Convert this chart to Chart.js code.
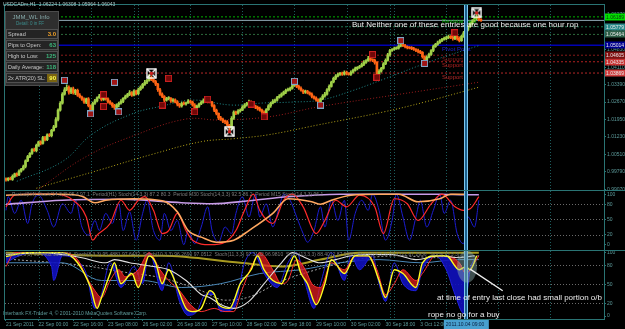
<!DOCTYPE html>
<html>
<head>
<meta charset="utf-8">
<script src="https://cdn.jsdelivr.net/npm/chart.js@4.4.0/dist/chart.umd.min.js"></script>
<style>
  html, body { margin: 0; padding: 0; background: #000; }
  canvas { display: block; }
</style>
</head>
<body>
<canvas id="chart" width="625" height="329"></canvas>
<script>
// USDCADm H1, one close per bar (bar 0 = 21 Sep 2011 09:00)
const closes = [
  0.9945, 0.9952, 0.9948, 0.9960, 0.9971, 0.9966, 0.9982, 0.9990, 1.0001, 1.0024,
  1.0042, 1.0055, 1.0071, 1.0066, 1.0088, 1.0103, 1.0096, 1.0120, 1.0112, 1.0132,
  1.0128, 1.0150, 1.0165, 1.0195, 1.0234, 1.0262, 1.0300, 1.0318, 1.0328, 1.0308,
  1.0322, 1.0305, 1.0316, 1.0296, 1.0288, 1.0279, 1.0267, 1.0280, 1.0252, 1.0234,
  1.0262, 1.0272, 1.0285, 1.0292, 1.0278, 1.0286, 1.0280, 1.0268, 1.0262, 1.0252,
  1.0245, 1.0256, 1.0262, 1.0270, 1.0282, 1.0290, 1.0298, 1.0306, 1.0296, 1.0312,
  1.0302, 1.0318, 1.0328, 1.0340, 1.0349, 1.0356, 1.0369, 1.0360, 1.0352, 1.0341,
  1.0318, 1.0300, 1.0290, 1.0275, 1.0281, 1.0283, 1.0272, 1.0276, 1.0267, 1.0258,
  1.0251, 1.0262, 1.0259, 1.0264, 1.0270, 1.0267, 1.0255, 1.0243, 1.0250, 1.0259,
  1.0266, 1.0272, 1.0275, 1.0270, 1.0267, 1.0252, 1.0234, 1.0220, 1.0202, 1.0196,
  1.0188, 1.0185, 1.0172, 1.0161, 1.0200, 1.0226, 1.0221, 1.0230, 1.0234, 1.0246,
  1.0255, 1.0262, 1.0267, 1.0258, 1.0251, 1.0245, 1.0240, 1.0234, 1.0226, 1.0218,
  1.0236, 1.0251, 1.0262, 1.0270, 1.0275, 1.0286, 1.0292, 1.0300, 1.0308, 1.0315,
  1.0318, 1.0324, 1.0335, 1.0341, 1.0332, 1.0324, 1.0316, 1.0308, 1.0312, 1.0305,
  1.0300, 1.0290, 1.0283, 1.0276, 1.0267, 1.0280, 1.0292, 1.0300, 1.0318, 1.0332,
  1.0350, 1.0365, 1.0374, 1.0381, 1.0386, 1.0382, 1.0390, 1.0385, 1.0381, 1.0390,
  1.0398, 1.0405, 1.0410, 1.0414, 1.0422, 1.0431, 1.0438, 1.0447, 1.0442, 1.0440,
  1.0431, 1.0381, 1.0395, 1.0406, 1.0425, 1.0439, 1.0462, 1.0480, 1.0484, 1.0488,
  1.0490, 1.0498, 1.0504, 1.0500, 1.0496, 1.0492, 1.0490, 1.0488, 1.0484, 1.0480,
  1.0476, 1.0472, 1.0455, 1.0439, 1.0452, 1.0464, 1.0480, 1.0496, 1.0505, 1.0512,
  1.0520, 1.0526, 1.0529, 1.0533, 1.0537, 1.0534, 1.0529, 1.0540, 1.0530, 1.0521,
  1.0538, 1.0553, 1.0565, 1.0578, 1.0590, 1.0602, 1.0612, 1.0619, 1.0608, 1.0604
];
const firstOpen = 0.9950;
// upper / lower shadow of each bar, in pips
const wickUp = [
  4, 3, 5, 6, 3, 4, 5, 3, 6, 4, 5, 3, 4, 6, 5, 3, 4, 5, 6, 4,
  5, 4, 6, 8, 5, 7, 6, 9, 10, 6, 5, 7, 4, 5, 6, 4, 5, 3, 6, 4,
  5, 6, 4, 7, 5, 8, 6, 4, 5, 3, 6, 4, 5, 7, 4, 6, 5, 8, 4, 6,
  5, 7, 6, 4, 8, 5, 12, 6, 4, 5, 3, 6, 5, 4, 6, 7, 3, 5, 4, 6,
  4, 5, 6, 3, 7, 5, 4, 6, 5, 4, 6, 8, 5, 4, 7, 3, 5, 4, 3, 6,
  5, 4, 6, 3, 7, 5, 4, 6, 5, 7, 6, 4, 8, 5, 3, 4, 5, 6, 4, 5,
  4, 6, 5, 7, 4, 5, 6, 5, 4, 6, 7, 5, 8, 9, 4, 5, 6, 3, 5, 4,
  4, 5, 3, 6, 4, 5, 6, 7, 5, 6, 4, 5, 7, 6, 4, 5, 6, 5, 4, 6,
  5, 6, 4, 5, 6, 7, 5, 9, 6, 4, 5, 3, 6, 4, 5, 7, 6, 5, 4, 6,
  5, 6, 8, 4, 5, 3, 4, 6, 5, 4, 6, 5, 4, 3, 6, 5, 4, 6, 5, 7,
  5, 4, 6, 5, 7, 5, 6, 9, 4, 6, 5, 6, 7, 5, 8, 6, 7, 10, 5, 4
];
const wickDn = [
  5, 4, 3, 5, 4, 6, 3, 5, 4, 6, 3, 5, 4, 3, 5, 4, 6, 3, 5, 4,
  4, 5, 3, 4, 6, 5, 4, 5, 4, 8, 6, 5, 7, 6, 4, 5, 6, 7, 5, 9,
  6, 5, 4, 3, 6, 4, 5, 6, 5, 7, 8, 5, 9, 4, 5, 3, 4, 5, 6, 4,
  5, 4, 3, 5, 4, 6, 3, 5, 4, 6, 7, 6, 5, 8, 4, 5, 6, 5, 4, 7,
  6, 5, 4, 5, 3, 6, 5, 8, 4, 5, 3, 4, 5, 6, 4, 5, 7, 6, 8, 5,
  6, 7, 5, 10, 8, 5, 6, 4, 5, 3, 4, 5, 3, 6, 4, 5, 6, 5, 7, 9,
  5, 4, 6, 3, 5, 4, 3, 5, 4, 6, 3, 5, 4, 3, 6, 5, 4, 6, 5, 4,
  5, 6, 4, 5, 8, 4, 3, 5, 4, 6, 3, 4, 5, 3, 4, 5, 4, 6, 3, 4,
  4, 3, 5, 4, 3, 5, 4, 3, 5, 6, 7, 10, 5, 4, 3, 4, 3, 5, 4, 3,
  4, 5, 3, 4, 5, 6, 4, 5, 4, 5, 6, 5, 7, 9, 4, 3, 4, 5, 3, 4,
  3, 4, 3, 5, 4, 5, 6, 4, 7, 6, 3, 4, 3, 4, 3, 4, 3, 5, 6, 4
];

// moving averages (dotted), read at a few bars
const maTealIdx = [5, 26, 40, 58, 72, 86, 104, 118, 132, 145, 159, 174, 197, 218];
const maTeal = [0.99397, 1.00215, 1.01361, 1.02179, 1.02506, 1.02752, 1.02547, 1.02629, 1.02670, 1.02752, 1.03120, 1.03611, 1.04388, 1.05002];
const maRedIdx = [15, 37, 60, 83, 98, 121, 144, 182, 218];
const maRed = [0.9907, 1.0042, 1.0132, 1.0197, 1.0193, 1.0206, 1.0247, 1.0300, 1.0349];
const maYellowIdx = [14, 44, 67, 90, 105, 121, 144, 174, 193, 218];
const maYellow = [0.99111, 0.99888, 1.00502, 1.01034, 1.01157, 1.01320, 1.01729, 1.02261, 1.02670, 1.03284];

// pivot levels
const levelNames = ['Resistance 3', '', '', 'Pivot Point', 'Support 1', 'Support 2', 'Support 3'];
const levelPrices = [1.06189, 1.05779, 1.05464, 1.05014, 1.04605, 1.04335, 1.03869];
const bidPrice = 1.06043;

// fractal markers
const markBlueIdx = [27, 39, 50, 52, 133, 145, 182, 193];
const markBluePrice = [1.03570, 1.02179, 1.03488, 1.02261, 1.03529, 1.02548, 1.05207, 1.04266];
const markRedIdx = [45, 45, 72, 75, 87, 93, 113, 119, 169, 171, 207];
const markRedPrice = [1.02975, 1.02484, 1.02548, 1.03652, 1.02261, 1.02793, 1.02588, 1.02057, 1.04634, 1.03693, 1.05534];
const markWhiteIdx = [67, 103, 217];
const markWhitePrice = [1.03857, 1.01443, 1.06352];

// pane 2: Stoch periods
const st2LavIdx = [0, 26, 53, 81, 95, 112, 130, 154, 180, 200, 212, 218];
const st2Lav = [80, 88, 90, 83, 81, 87, 95, 100, 100, 100, 99, 99];
const st2OrgIdx = [0, 15, 26, 35, 41, 46, 59, 72, 79, 84, 90, 97, 105, 112, 123, 130, 141, 145, 150, 159, 172, 181, 190, 200, 205, 212];
const st2Org = [98, 100, 100, 96, 83, 88, 91, 87, 65, 28, 15, 5, 9, 28, 62, 91, 85, 80, 88, 98, 100, 100, 85, 91, 100, 100];
const st2RedIdx = [0, 4, 13, 22, 31, 37, 40, 42, 48, 53, 57, 61, 64, 68, 72, 75, 79, 83, 86, 94, 101, 106, 110, 114, 117, 123, 128, 132, 137, 143, 147, 152, 157, 163, 170, 174, 179, 185, 190, 196, 201, 207, 211, 214, 218];
const st2Red = [75, 98, 100, 100, 88, 55, 9, 19, 42, 88, 68, 88, 95, 68, 22, 28, 62, 28, 9, 0, 5, 28, 68, 100, 68, 42, 88, 100, 75, 22, 48, 88, 75, 98, 75, 22, 91, 81, 48, 81, 100, 75, 68, 71, 95];
const st2BlueIdx = [0, 1, 4, 7, 10, 12, 15, 19, 22, 26, 30, 32, 35, 38, 41, 43, 46, 49, 52, 54, 57, 60, 63, 65, 68, 71, 73, 76, 79, 82, 84, 87, 90, 93, 95, 98, 101, 104, 106, 109, 112, 115, 117, 120, 123, 126, 128, 131, 134, 137, 139, 142, 145, 147, 150, 153, 156, 158, 161, 164, 167, 169, 172, 175, 178, 180, 183, 186, 189, 191, 194, 197, 200, 202, 205, 208, 211, 213, 216, 218];
const st2Blue = [68, 95, 62, 88, 42, 81, 98, 68, 35, 81, 62, 88, 35, 19, 48, 28, 62, 42, 81, 28, 65, 9, 62, 88, 28, 9, 62, 28, 48, 0, 28, 2, 35, 75, 28, 5, 35, 22, 62, 95, 55, 100, 55, 81, 35, 75, 100, 88, 55, 22, 5, 28, 75, 35, 88, 48, 88, 9, 62, 88, 68, 100, 68, 9, 48, 100, 55, 9, 55, 88, 35, 68, 100, 62, 88, 22, 2, 55, 35, 88];

// pane 3: Stoch ribbon
const st3YelIdx = [0, 10, 19, 26, 33, 39, 42, 44, 48, 50, 53, 58, 61, 66, 69, 72, 75, 79, 83, 86, 90, 94, 96, 98, 103, 108, 113, 116, 119, 123, 127, 130, 133, 136, 139, 143, 147, 150, 156, 161, 167, 172, 175, 179, 183, 189, 192, 198, 203, 209, 212, 214, 217];
const st3Yel = [94, 100, 100, 100, 84, 45, 12, 29, 67, 84, 51, 67, 45, 95, 84, 51, 73, 45, 12, 7, 12, 40, 35, 18, 12, 51, 73, 95, 73, 56, 51, 73, 95, 67, 51, 18, 51, 89, 67, 95, 95, 56, 29, 73, 67, 45, 84, 95, 95, 73, 78, 73, 95];
const st3BlueIdx = [0, 6, 13, 21, 22, 26, 32, 37, 41, 44, 48, 53, 59, 63, 66, 72, 75, 80, 84, 88, 92, 96, 99, 105, 110, 114, 119, 125, 130, 134, 138, 142, 145, 150, 156, 159, 163, 169, 172, 175, 179, 183, 189, 192, 198, 203, 207, 211, 214, 217];
const st3Blue = [84, 95, 100, 78, 56, 95, 89, 67, 12, 34, 84, 45, 78, 51, 100, 40, 84, 23, 1, 7, 34, 34, 7, 12, 84, 100, 67, 45, 84, 100, 51, 12, 51, 100, 56, 95, 73, 95, 51, 23, 84, 51, 40, 73, 95, 73, 34, 4, 73, 95];
const st3RedIdx = [0, 4, 15, 26, 33, 37, 41, 44, 48, 52, 55, 61, 66, 71, 75, 80, 85, 90, 96, 101, 105, 108, 114, 117, 123, 127, 130, 134, 138, 141, 145, 150, 156, 161, 167, 171, 175, 179, 183, 189, 192, 198, 203, 209, 212, 216, 218];
const st3Red = [78, 100, 100, 100, 89, 62, 40, 29, 56, 73, 62, 73, 100, 73, 56, 40, 18, 7, 12, 7, 7, 34, 84, 100, 73, 51, 56, 89, 73, 51, 45, 84, 73, 95, 95, 73, 34, 51, 73, 56, 67, 95, 95, 84, 67, 84, 95];
const st3WhiteIdx = [0, 17, 26, 35, 46, 50, 57, 68, 75, 83, 90, 94, 99, 105, 112, 119, 127, 132, 138, 145, 152, 159, 167, 178, 189, 200, 209, 216];
const st3White = [97, 100, 97, 92, 84, 89, 84, 78, 73, 56, 34, 29, 18, 12, 23, 51, 84, 100, 92, 84, 89, 95, 97, 97, 89, 95, 92, 95];
const st3OliveIdx = [0, 53, 72, 108, 127, 145, 163, 218];
const st3Olive = [100, 95, 95, 84, 78, 89, 100, 100];
const st3SteelIdx = [0, 26, 44, 63, 81, 99, 117, 136, 154, 172, 191, 209, 218];
const st3Steel = [84, 84, 56, 56, 45, 51, 67, 73, 84, 89, 84, 89, 89];
const st3GreyIdx = [0, 35, 53, 72, 90, 101, 112, 127, 145, 163, 181, 200, 218];
const st3Grey = [90, 80, 70, 60, 40, 25, 30, 55, 75, 90, 95, 92, 95];

// time axis
const labelIdx = [0, 15, 31, 47, 63, 79, 95, 111, 127, 143, 159, 175, 191];
const timeLabels = ['21 Sep 2011', '22 Sep 00:00', '22 Sep 16:00', '23 Sep 08:00', '26 Sep 02:00', '26 Sep 18:00',
  '27 Sep 10:00', '28 Sep 02:00', '28 Sep 18:00', '29 Sep 10:00', '30 Sep 02:00', '30 Sep 18:00', '3 Oct 12:00'];
const daySepIdx = [15, 39, 59, 61, 85, 109, 133, 157, 177, 179, 203, 227, 251];
const priceTicks = [0.9907, 0.9979, 1.0051, 1.0123, 1.0195, 1.0267, 1.0339, 1.0411, 1.0483, 1.0555, 1.0627];
const oscTicks = [100, 80, 50, 20, 0];
const entryIdx = 212;
const entryLabel = '2011.10.04 09:00';

const infoRows = [['Spread', '3.0'], ['Pips to Open:', '63'], ['High to Low:', '125'], ['Daily Average:', '118'], ['2x ATR(20) SL:', '90']];

// ---------- helpers ----------
const xMin = -0.46, xMax = 275.7;
const PIP = 0.0001;
const pts = (xs, ys) => xs.map((x, i) => ({ x: x, y: ys[i] }));
const FONT = '"Liberation Sans", Arial, sans-serif';
const NARROW = '"Liberation Sans Narrow", "Liberation Sans", Arial, sans-serif';

function makeMark(size, draw) {
  const c = document.createElement('canvas');
  c.width = c.height = size;
  draw(c.getContext('2d'), size);
  return c;
}
const markBlueImg = makeMark(7, g => {
  g.fillStyle = '#a01414'; g.fillRect(1, 1, 5, 5);
  g.strokeStyle = '#7fa6c6'; g.lineWidth = 1; g.strokeRect(0.5, 0.5, 6, 6);
});
const markRedImg = makeMark(7, g => {
  g.fillStyle = '#700808'; g.fillRect(1, 1, 5, 5);
  g.strokeStyle = '#c82020'; g.lineWidth = 1; g.strokeRect(0.5, 0.5, 6, 6);
});
const markWhiteImg = makeMark(11, g => {
  g.strokeStyle = '#ffffff'; g.lineWidth = 1.4;
  g.strokeRect(1, 1, 9, 9);
  g.beginPath(); g.moveTo(1, 1); g.lineTo(10, 10); g.moveTo(10, 1); g.lineTo(1, 10); g.stroke();
  g.fillStyle = '#d02020'; g.fillRect(4, 4, 3, 3);
});

const opens = closes.map((c, i) => i === 0 ? firstOpen : closes[i - 1]);
const candleData = closes.map((c, i) => ({ x: i, y: [opens[i], c] }));
const wickData = closes.map((c, i) => ({ x: i, y: [Math.min(opens[i], c) - wickDn[i] * PIP, Math.max(opens[i], c) + wickUp[i] * PIP] }));
const candleColors = closes.map((c, i) => c >= opens[i] ? '#a0d048' : '#ff6414');

const levelColors = ['#00b000', '#1c7a50', '#2c6a3c', '#0000b4', '#8a1a1a', '#b42020', '#b42828'];
const boxColors = ['#00e000', '#2a8a8a', '#2f5f48', '#000090', '#801010', '#c83030', '#d04040'];

const line = (data, color, width, axis, extra) => Object.assign({
  type: 'line', data: data, borderColor: color, borderWidth: width, pointRadius: 0,
  yAxisID: axis, xAxisID: 'x', fill: false, cubicInterpolationMode: 'monotone'
}, extra || {});

const datasets = [];
// main pane (first = on top)
datasets.push({ type: 'scatter', data: pts(markWhiteIdx, markWhitePrice), pointStyle: markWhiteImg, yAxisID: 'y' });
datasets.push({ type: 'scatter', data: pts(markBlueIdx, markBluePrice), pointStyle: markBlueImg, yAxisID: 'y' });
datasets.push({ type: 'scatter', data: pts(markRedIdx, markRedPrice), pointStyle: markRedImg, yAxisID: 'y' });
datasets.push({ type: 'bar', data: candleData, backgroundColor: candleColors, barThickness: 2, minBarLength: 1, grouped: false, yAxisID: 'y' });
datasets.push({ type: 'bar', data: wickData, backgroundColor: candleColors, barThickness: 1, grouped: false, yAxisID: 'y' });
datasets.push(line(pts(maTealIdx, maTeal), '#1f8a8a', 1, 'y', { borderDash: [1, 2], cubicInterpolationMode: 'default', tension: 0.4 }));
datasets.push(line(pts(maRedIdx, maRed), '#9a1c1c', 1, 'y', { borderDash: [1, 2], cubicInterpolationMode: 'default', tension: 0.4 }));
datasets.push(line(pts(maYellowIdx, maYellow), '#b4a418', 1, 'y', { borderDash: [1, 2], cubicInterpolationMode: 'default', tension: 0.4 }));
levelPrices.forEach((p, i) => {
  datasets.push(line([{ x: xMin, y: p }, { x: xMax, y: p }], levelColors[i], i === 3 ? 1.4 : 1, 'y', i === 3 ? {} : { borderDash: [2, 2] }));
});
datasets.push(line([{ x: xMin, y: bidPrice }, { x: xMax, y: bidPrice }], '#8fa8b4', 1, 'y'));
// pane 2
datasets.push(line(pts(st2OrgIdx, st2Org), '#ffa860', 1.6, 'y2'));
datasets.push(line(pts(st2RedIdx, st2Red), '#ff2a2a', 1.2, 'y2'));
datasets.push(line(pts(st2LavIdx, st2Lav), '#c89ce8', 1.6, 'y2'));
datasets.push(line(pts(st2BlueIdx, st2Blue), '#1c1cd0', 1, 'y2'));
// pane 3
const yelIndex = datasets.length;
datasets.push(line(pts(st3YelIdx, st3Yel), '#ffff20', 1.4, 'y3'));
datasets.push(line(pts(st3WhiteIdx, st3White), '#e0e0e0', 1.1, 'y3'));
datasets.push(line(pts(st3RedIdx, st3Red), '#ff3030', 1, 'y3', { fill: { target: yelIndex, above: 'rgba(225,30,30,0.75)', below: 'rgba(0,0,0,0)' } }));
datasets.push(line(pts(st3BlueIdx, st3Blue), '#2020e0', 1, 'y3', { fill: { target: yelIndex, above: 'rgba(0,0,0,0)', below: 'rgba(16,16,190,0.9)' } }));
datasets.push(line(pts(st3OliveIdx, st3Olive), '#a89a20', 2, 'y3'));
datasets.push(line(pts(st3SteelIdx, st3Steel), '#4a88b8', 1, 'y3'));
datasets.push(line(pts(st3GreyIdx, st3Grey), '#a0a0a0', 1, 'y3', { borderDash: [2, 2] }));

// ---------- decoration plugin ----------
function dotted(ctx, x1, y1, x2, y2, color) {
  ctx.save(); ctx.strokeStyle = color; ctx.lineWidth = 1; ctx.setLineDash([1, 2]);
  ctx.beginPath(); ctx.moveTo(x1, y1); ctx.lineTo(x2, y2); ctx.stroke(); ctx.restore();
}
const mtDecor = {
  id: 'mtDecor',
  beforeDraw(chart) {
    const ctx = chart.ctx;
    ctx.save(); ctx.fillStyle = '#000'; ctx.fillRect(0, 0, chart.width, chart.height); ctx.restore();
  },
  beforeDatasetsDraw(chart) {
    const ctx = chart.ctx, a = chart.chartArea, x = chart.scales.x;
    daySepIdx.forEach(i => {
      const px = Math.round(x.getPixelForValue(i)) + 0.5;
      if (px < a.right) dotted(ctx, px, a.top, px, a.bottom, '#1d5e5e');
    });
    ['y2', 'y3'].forEach(id => {
      const s = chart.scales[id];
      [80, 50, 20].forEach(v => {
        const py = Math.round(s.getPixelForValue(v)) + 0.5;
        dotted(ctx, a.left, py, a.right, py, '#6a6a6a');
      });
    });
  },
  afterDatasetsDraw(chart) {
    const ctx = chart.ctx, a = chart.chartArea, x = chart.scales.x, y = chart.scales.y, y3 = chart.scales.y3;
    ctx.save();
    // level names
    ctx.font = '6px ' + FONT; ctx.textBaseline = 'top';
    levelNames.forEach((n, i) => {
      if (!n) return;
      ctx.fillStyle = levelColors[i] === '#0000b4' ? '#2020c8' : levelColors[i];
      ctx.fillText(n, x.getPixelForValue(201), y.getPixelForValue(levelPrices[i]) + 1);
    });
    // entry line
    const ex = Math.round(x.getPixelForValue(entryIdx));
    ctx.fillStyle = '#1a5f8c'; ctx.fillRect(ex - 2, a.top, 4, a.bottom - a.top);
    ctx.fillStyle = '#7cc6ee'; ctx.fillRect(ex - 2, a.top, 1, a.bottom - a.top); ctx.fillRect(ex + 1, a.top, 1, a.bottom - a.top);
    // highlight ellipse
    ctx.fillStyle = 'rgba(140,175,175,0.45)';
    ctx.beginPath(); ctx.ellipse(ex + 1, y3.getPixelForValue(78), 10, 16, 0, 0, Math.PI * 2); ctx.fill();
    // arrow line
    ctx.strokeStyle = '#f0f0f0'; ctx.lineWidth = 1.3;
    ctx.beginPath(); ctx.moveTo(x.getPixelForValue(214), y3.getPixelForValue(74)); ctx.lineTo(x.getPixelForValue(229), y3.getPixelForValue(40)); ctx.stroke();
    // annotations
    ctx.fillStyle = '#ececec'; ctx.textBaseline = 'middle';
    ctx.font = '8px ' + FONT;
    ctx.fillText('But Neither one of these entries are good because one hour rop', 352, 25);
    ctx.fillText('at time of entry last close had small portion o/b', 437, 298);
    ctx.fillText('rope no go for a buy', 428, 315);
    // pane titles
    ctx.font = '5px ' + NARROW; ctx.fillStyle = '#7c7c7c';
    ctx.fillText('Period(H4) Stoch(14,3,3) 95.4 97.1  Period(H1) Stoch(14,3,3) 87.2 80.3  Period M30 Stoch(14,3,3) 92.5 86.2  Period M15 Stoch(14,3,3) 96.1', 12, 195);
    ctx.fillText('Stoch(5,3,3) 95.6482 96.5838  Stoch(8,3,3) 95.4881 97.6432  Stoch(10,3,3) 96.2690 97.0512  Stoch(11,3,3) 97.3102 96.9810  Stoch(13,3,3) 88.4012 87.9956  Stoch(14,3,3) 87.1722 87.2936  Stoch(15,3,3)', 5, 255);
    ctx.fillStyle = '#5f9a9a';
    ctx.fillText('Interbank FX-Trader 4, \u00a9 2001-2010 MetaQuotes Software Corp.', 3, 314);
    ctx.restore();
  },
  afterDraw(chart) {
    const ctx = chart.ctx, a = chart.chartArea, x = chart.scales.x, y = chart.scales.y;
    ctx.save();
    // frame + pane separators
    ctx.strokeStyle = '#2a7474'; ctx.lineWidth = 1;
    ctx.strokeRect(a.left - 0.5, a.top - 0.5, a.right - a.left + 1, a.bottom - a.top + 1);
    [chart.scales.y.bottom, chart.scales.y2.bottom].forEach(b => {
      ctx.beginPath(); ctx.moveTo(a.left, Math.round(b) + 0.5); ctx.lineTo(chart.width, Math.round(b) + 0.5); ctx.stroke();
    });
    // price boxes on the right axis
    ctx.font = '5px ' + NARROW; ctx.textBaseline = 'middle';
    levelPrices.forEach((p, i) => {
      const py = Math.round(y.getPixelForValue(p));
      ctx.fillStyle = boxColors[i]; ctx.fillRect(a.right + 1, py - 3.5, 20, 7);
      ctx.fillStyle = i === 0 ? '#0a3a0a' : '#e8e8e8';
      ctx.fillText(p.toFixed(5), a.right + 2, py + 0.5);
    });
    // header
    ctx.fillStyle = '#a8c4c4'; ctx.font = '5px ' + NARROW;
    ctx.fillText('USDCADm,H1  1.06224 1.06308 1.05964 1.06043', 3, 5);
    // info panel
    ctx.fillStyle = '#2e2e2e'; ctx.fillRect(5, 11, 54, 75);
    ctx.strokeStyle = '#4c4c4c'; ctx.strokeRect(5.5, 11.5, 53, 74);
    ctx.font = '6px ' + FONT; ctx.fillStyle = '#86aaaa'; ctx.textAlign = 'center';
    ctx.fillText('JMM_WL Info', 31, 17);
    ctx.font = '4.5px ' + FONT; ctx.fillStyle = '#3c8c8c';
    ctx.fillText('Detail: 0 in FF', 30, 24);
    const valColors = ['#f0a028', '#3cb47a', '#3cb47a', '#3cb47a', '#ffff50'];
    infoRows.forEach((r, i) => {
      const top = 29 + i * 11;
      ctx.fillStyle = '#242424'; ctx.fillRect(6, top, 52, 10);
      ctx.strokeStyle = '#505050'; ctx.strokeRect(6.5, top + 0.5, 51, 9);
      if (i === 4) { ctx.fillStyle = '#7a6410'; ctx.fillRect(47, top + 1, 10, 8); }
      ctx.textAlign = 'left'; ctx.font = '5.5px ' + FONT; ctx.fillStyle = '#c8c8c8';
      ctx.fillText(r[0], 8, top + 5);
      ctx.textAlign = 'right'; ctx.font = 'bold 6px ' + FONT; ctx.fillStyle = valColors[i];
      ctx.fillText(r[1], 56, top + 5);
    });
    ctx.textAlign = 'left';
    // time highlight label
    const ex = x.getPixelForValue(entryIdx);
    ctx.fillStyle = '#48a0d0'; ctx.fillRect(ex - 22, a.bottom + 1, 45, 9);
    ctx.fillStyle = '#0a2040'; ctx.font = '5px ' + NARROW;
    ctx.fillText(entryLabel, ex - 20, a.bottom + 5.5);
    ctx.restore();
  }
};

Chart.defaults.font.family = NARROW;
const axisTicks = { color: '#5c9a9a', font: { size: 5 }, padding: 1, autoSkip: false };
const fitY = s => { s.width = 21; s.paddingTop = 0; s.paddingBottom = 0; };

new Chart(document.getElementById('chart'), {
  type: 'bar',
  data: { datasets: datasets },
  options: {
    responsive: false,
    animation: false,
    events: [],
    layout: { padding: { left: 2, top: 2, right: 0, bottom: 0 } },
    plugins: { legend: { display: false }, tooltip: { enabled: false } },
    scales: {
      x: {
        type: 'linear', min: xMin, max: xMax, position: 'bottom', offset: false,
        afterFit: s => { s.height = 10; s.paddingLeft = 0; s.paddingRight = 0; },
        afterBuildTicks: s => { s.ticks = labelIdx.map(v => ({ value: v })); },
        grid: { drawOnChartArea: false, offset: false, color: '#2a7474', tickLength: 2 },
        border: { display: false },
        ticks: Object.assign({}, axisTicks, { align: 'start', maxRotation: 0, minRotation: 0, callback: (v, i) => timeLabels[i] })
      },
      y: {
        position: 'right', stack: 'panes', stackWeight: 187, min: 0.99029, max: 1.06679,
        afterFit: fitY,
        afterBuildTicks: s => { s.ticks = priceTicks.map(v => ({ value: v })); },
        grid: { drawOnChartArea: false, color: '#2a7474', tickLength: 2 },
        border: { display: false },
        ticks: Object.assign({}, axisTicks, { callback: v => v.toFixed(5) })
      },
      y2: {
        position: 'right', stack: 'panes', stackWeight: 60, min: -9.8, max: 107.84,
        afterFit: fitY,
        afterBuildTicks: s => { s.ticks = oscTicks.map(v => ({ value: v })); },
        grid: { drawOnChartArea: false, color: '#2a7474', tickLength: 2 },
        border: { display: false },
        ticks: Object.assign({}, axisTicks, { callback: v => String(v) })
      },
      y3: {
        position: 'right', stack: 'panes', stackWeight: 70, min: -4.69, max: 104.69,
        afterFit: fitY,
        afterBuildTicks: s => { s.ticks = oscTicks.map(v => ({ value: v })); },
        grid: { drawOnChartArea: false, color: '#2a7474', tickLength: 2 },
        border: { display: false },
        ticks: Object.assign({}, axisTicks, { callback: v => String(v) })
      }
    }
  },
  plugins: [mtDecor]
});
</script>
</body>
</html>
